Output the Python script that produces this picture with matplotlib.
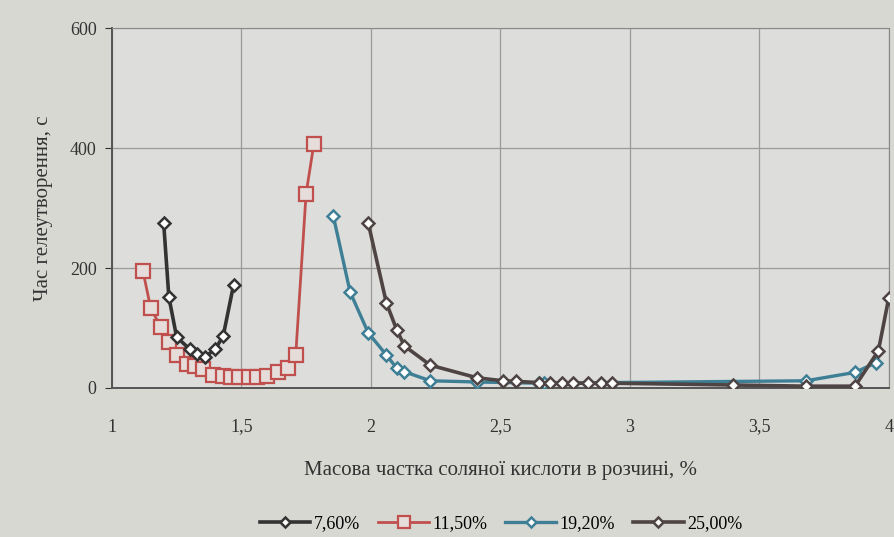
import matplotlib
matplotlib.use("Agg")
import matplotlib.pyplot as plt

plt.rcParams['font.family'] = ['Liberation Serif', 'DejaVu Serif']

# data
x_760 = [1.2, 1.22, 1.25, 1.3, 1.33, 1.36, 1.4, 1.43, 1.47]
y_760 = [275, 152, 85, 65, 57, 52, 65, 87, 172]

x_1150 = [1.12, 1.15, 1.19, 1.22, 1.25, 1.29, 1.32, 1.35, 1.39, 1.43,
          1.46, 1.49, 1.53, 1.56, 1.6, 1.64, 1.68, 1.71, 1.75, 1.78]
y_1150 = [195, 133, 101, 76, 55, 40, 36, 32, 22, 20,
          19, 19, 19, 18, 20, 26, 34, 55, 324, 407]

x_1920 = [1.855, 1.92, 1.99, 2.06, 2.1, 2.13, 2.23, 2.41, 2.65, 2.67, 3.68, 3.87, 3.95]
y_1920 = [287, 160, 92, 55, 33, 27, 12, 10, 8, 8, 12, 26, 42]

x_2500 = [1.99, 2.06, 2.1, 2.13, 2.23, 2.41, 2.51, 2.56, 2.65, 2.69,
          2.74, 2.78, 2.84, 2.89, 2.93, 3.4, 3.68, 3.87, 3.96, 4.0]
y_2500 = [275, 142, 97, 70, 38, 17, 12, 11, 9, 8,
          8, 8, 8, 8, 8, 5, 3, 3, 62, 150]

series_labels = ['7,60%', '11,50%', '19,20%', '25,00%']
x_ticks = [1, 1.5, 2, 2.5, 3, 3.5, 4]
x_tick_labels = ['1', '1,5', '2', '2,5', '3', '3,5', '4']
y_ticks = [0, 200, 400, 600]

bg = '#d8d8d3'
fig = plt.figure(figsize=(8.95, 5.37), dpi=100, facecolor=bg)
ax = fig.add_axes([0.125, 0.2775, 0.868, 0.67])
ax.set_facecolor('#dddddb')

ax.plot(x_760, y_760, color='#333333', lw=2.6, marker='D', ms=6.5,
        mfc='white', mec='#333333', mew=1.8, label=series_labels[0], zorder=4)
ax.plot(x_1150, y_1150, color='#c0504d', lw=2.0, marker='s', ms=9.5,
        mfc='#e6dcd9', mec='#c0504d', mew=1.6, label=series_labels[1], zorder=3)
ax.plot(x_1920, y_1920, color='#3e7f96', lw=2.4, marker='D', ms=6.5,
        mfc='white', mec='#3e7f96', mew=1.8, label=series_labels[2], zorder=4)
ax.plot(x_2500, y_2500, color='#4e4444', lw=2.6, marker='D', ms=6.5,
        mfc='white', mec='#4e4444', mew=1.8, label=series_labels[3], zorder=5)

ax.set_xlim(1, 4)
ax.set_ylim(0, 600)
ax.set_xticks(x_ticks)
ax.set_xticklabels(x_tick_labels)
ax.set_yticks(y_ticks)
ax.grid(True, color='#9a9a98', lw=0.9)
ax.set_axisbelow(True)
for side in ['top', 'right']:
    ax.spines[side].set_color('#888886')
for side in ['left', 'bottom']:
    ax.spines[side].set_color('#555555')
    ax.spines[side].set_linewidth(1.4)
ax.tick_params(axis='x', length=0, pad=22, labelsize=13, colors='#333333')
ax.tick_params(axis='y', length=5, pad=6, labelsize=13, colors='#333333')

ax.set_xlabel('Масова частка соляної кислоти в розчині, %', fontsize=15,
              color='#333333', labelpad=18)
ax.set_ylabel('Час гелеутворення, с', fontsize=15, color='#333333', labelpad=12)

fig.legend(loc='lower center', bbox_to_anchor=(0.56, -0.022), ncol=4,
           frameon=False, fontsize=13, handlelength=2.8, columnspacing=1.0,
           handletextpad=0.2, markerscale=0.85)

fig.savefig('out.png', dpi=100, facecolor=bg)
